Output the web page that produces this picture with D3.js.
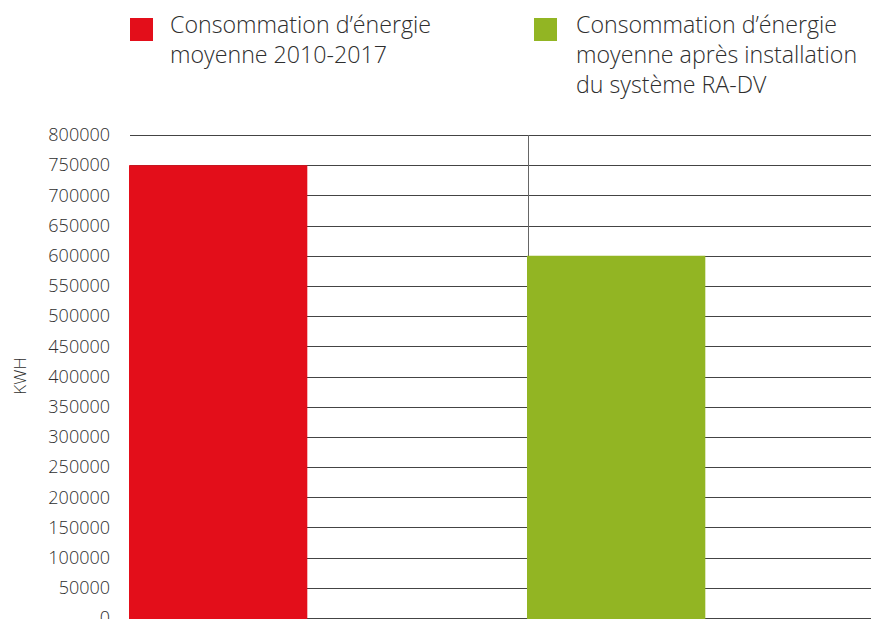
<!DOCTYPE html>
<html>
<head>
<meta charset="utf-8">
<script src="https://cdn.jsdelivr.net/npm/d3@7"></script>
<style>
  body { margin: 0; background: #fff; }
  svg { display: block; font-family: "Open Sans", sans-serif; font-weight: 300; }
</style>
</head>
<body>
<svg id="svg" width="871" height="619"></svg>
<script>
// ---- //
// Data //
// ---- //

const categories = ["2010-2017", "RA-DV"];
const values = [750000, 600000];
const legendLabels = [
    ["Consommation d\u2019énergie", "moyenne 2010-2017"],
    ["Consommation d\u2019énergie", "moyenne après installation", "du système RA-DV"]
];
const colors = ["#e30e1a", "#92b523"];
const yTicks = d3.range(0, 800001, 50000);

// ------ //
// Scales //
// ------ //

const svg = d3.select("#svg");
const plotTop = 135, plotBottom = 618, plotLeft = 130;

// band step is wider than the visible area, the picture is cropped on the right
const x = d3.scaleBand().domain(categories).range([plotLeft, 926]);
const barWidth = x.bandwidth() * 0.448;
const y = d3.scaleLinear().domain([0, 800000]).range([plotBottom, plotTop]);

// gridlines
svg.append("g")
    .selectAll("line")
    .data(yTicks)
    .join("line")
    .attr("x1", plotLeft)
    .attr("x2", 871)
    .attr("y1", d => Math.round(y(d)) + 0.5)
    .attr("y2", d => Math.round(y(d)) + 0.5)
    .attr("stroke", "#444")
    .attr("stroke-width", 1);

// separator between the two categories
svg.append("g")
    .selectAll("line")
    .data(categories.slice(1))
    .join("line")
    .attr("x1", d => Math.round(x(d)) + 0.5)
    .attr("x2", d => Math.round(x(d)) + 0.5)
    .attr("y1", plotTop)
    .attr("y2", plotBottom)
    .attr("stroke", "#666");

// bars
svg.append("g")
    .selectAll("rect")
    .data(categories)
    .join("rect")
    .attr("x", d => x(d) - 1)
    .attr("y", (d, i) => y(values[i]))
    .attr("width", barWidth)
    .attr("height", (d, i) => plotBottom + 1 - y(values[i]))
    .attr("fill", (d, i) => colors[i]);

// y axis labels
const yAxis = d3.axisLeft(y).tickValues(yTicks).tickSize(0).tickPadding(0).tickFormat(d3.format("d"));
svg.append("g")
    .attr("transform", "translate(110,0)")
    .call(yAxis)
    .call(g => g.select(".domain").remove())
    .call(g => g.selectAll("text")
        .attr("font-size", 18)
        .attr("font-family", "'Open Sans', sans-serif")
        .attr("font-weight", 300)
        .attr("fill", "#2e2e2e"));

svg.append("text")
    .attr("transform", "translate(26,376) rotate(-90)")
    .attr("text-anchor", "middle")
    .attr("font-size", 17)
    .attr("fill", "#2e2e2e")
    .text("KWH");

// legend
const legendX = [130, 534];
const legend = svg.append("g")
    .selectAll("g")
    .data(legendLabels)
    .join("g")
    .attr("transform", (d, i) => `translate(${legendX[i]},18)`);

legend.append("rect")
    .attr("width", 23)
    .attr("height", 23)
    .attr("fill", (d, i) => colors[i]);

legend.append("text")
    .attr("x", (d, i) => i === 0 ? 40 : 42)
    .attr("font-size", 23.2)
    .attr("fill", "#2e2e2e")
    .selectAll("tspan")
    .data(d => d)
    .join("tspan")
    .attr("x", function () { return this.parentNode.getAttribute("x"); })
    .attr("y", (d, i) => 15 + i * 30)
    .text(d => d);
</script>
</body>
</html>
